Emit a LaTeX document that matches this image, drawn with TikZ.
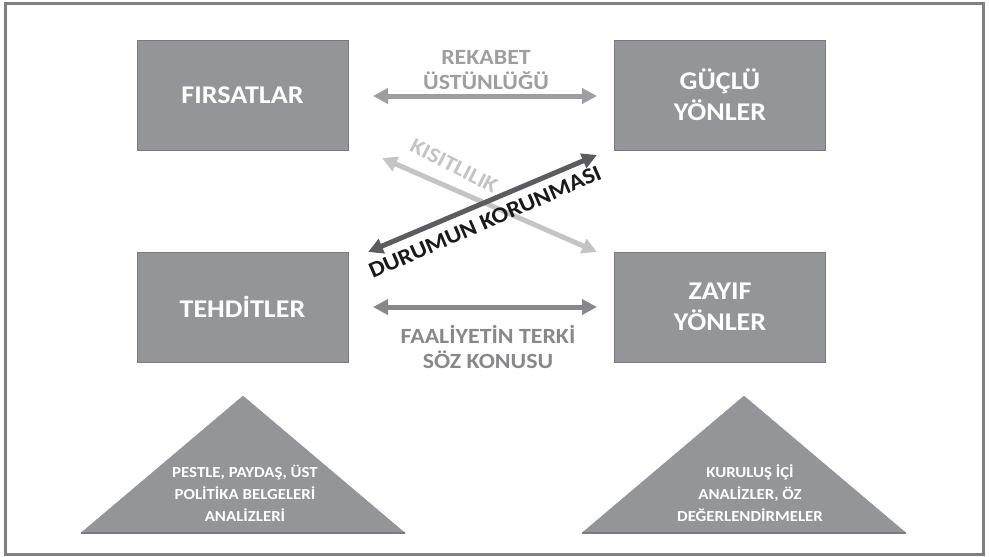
\documentclass[tikz,border=0pt]{standalone}
\usepackage{fontspec}
\setmainfont{Carlito}[FakeStretch=1.1]
\usetikzlibrary{arrows.meta}

\definecolor{kutugri}{HTML}{939598}
\definecolor{kenargri}{HTML}{7A7B7D}
\definecolor{cercevegri}{HTML}{808080}
\definecolor{rekabetgri}{HTML}{9D9EA0}
\definecolor{terkgri}{HTML}{87888A}
\definecolor{acikgri}{HTML}{C4C4C4}
\definecolor{koyugri}{HTML}{5C5C5E}

\tikzset{
	kutu/.style={draw=kenargri, fill=kutugri, minimum width=211pt, minimum height=110pt,
		text=white, font=\fontsize{25.5}{31}\selectfont\bfseries},
	ucgen/.style={fill=kutugri, draw=kutugri},
	ucgenyazi/.style={text=white, font=\fontsize{15.3}{22}\selectfont\bfseries},
	ok/.style={line width=5pt, {Triangle[length=15pt,width=15pt]}-{Triangle[length=15pt,width=15pt]}},
	okyazi/.style={font=\fontsize{21.7}{25}\selectfont\bfseries}
}

\begin{document}
\begin{tikzpicture}[x=1pt, y=-1pt, align=center]
	
	\useasboundingbox (0,0) rectangle (989,557);
	\draw[line width=3pt, cercevegri] (5.5,3.5) rectangle (983,554);
	
	% kutular
	\draw (242.5,95) node[kutu] (fir) {FIRSATLAR};
	\draw (720,95) node[kutu, text depth=-3pt] (guc) {GÜÇLÜ\\YÖNLER};
	\draw (242.5,307) node[kutu] (teh) {TEHDİTLER};
	\draw (720,307) node[kutu, text depth=-3pt] (zay) {ZAYIF\\YÖNLER};
	
	% yatay oklar
	\coordinate (r1) at (373,96);
	\coordinate (r2) at (597,96);
	\coordinate (f1) at (373,307);
	\coordinate (f2) at (597,307);
	\draw[ok, rekabetgri] (r1) -- (r2);
	\draw[ok, terkgri] (f1) -- (f2);
	\node[okyazi, text=rekabetgri] (rek) at (486,70) {REKABET\\ÜSTÜNLÜĞÜ};
	\node[okyazi, text=terkgri] (faa) at (488,347) {FAALİYETİN TERKİ\\SÖZ KONUSU};
	
	% capraz oklar
	\coordinate (k1) at (382,158);
	\coordinate (k2) at (597,252);
	\coordinate (d1) at (368,252);
	\coordinate (d2) at (597,155);
	\draw[ok, acikgri] (k1) -- (k2);
	\draw[ok, koyugri] (d1) -- (d2);
	\node[okyazi, text=acikgri, rotate=-27] (kis) at (454,166) {KISITLILIK};
	\node[okyazi, font=\fontsize{22.5}{26}\selectfont\bfseries, text=black!90, rotate=23.5] (dur) at (485,222) {DURUMUN KORUNMASI};
	
	% ucgenler
	\filldraw[ucgen] (81,533) -- (243,396) -- (405,533) -- cycle;
	\draw[kenargri, line width=1.2pt] (81,533) -- (405,533);
	\node[ucgenyazi] (dis) at (245,493) {PESTLE, PAYDAŞ, ÜST\\POLİTİKA BELGELERİ\\ANALİZLERİ};
	
	\filldraw[ucgen] (582,533) -- (744,396) -- (906,533) -- cycle;
	\draw[kenargri, line width=1.2pt] (582,533) -- (906,533);
	\node[ucgenyazi] (ic) at (750,493) {KURULUŞ İÇİ\\ANALİZLER, ÖZ\\DEĞERLENDİRMELER};
	
\end{tikzpicture}
\end{document}
